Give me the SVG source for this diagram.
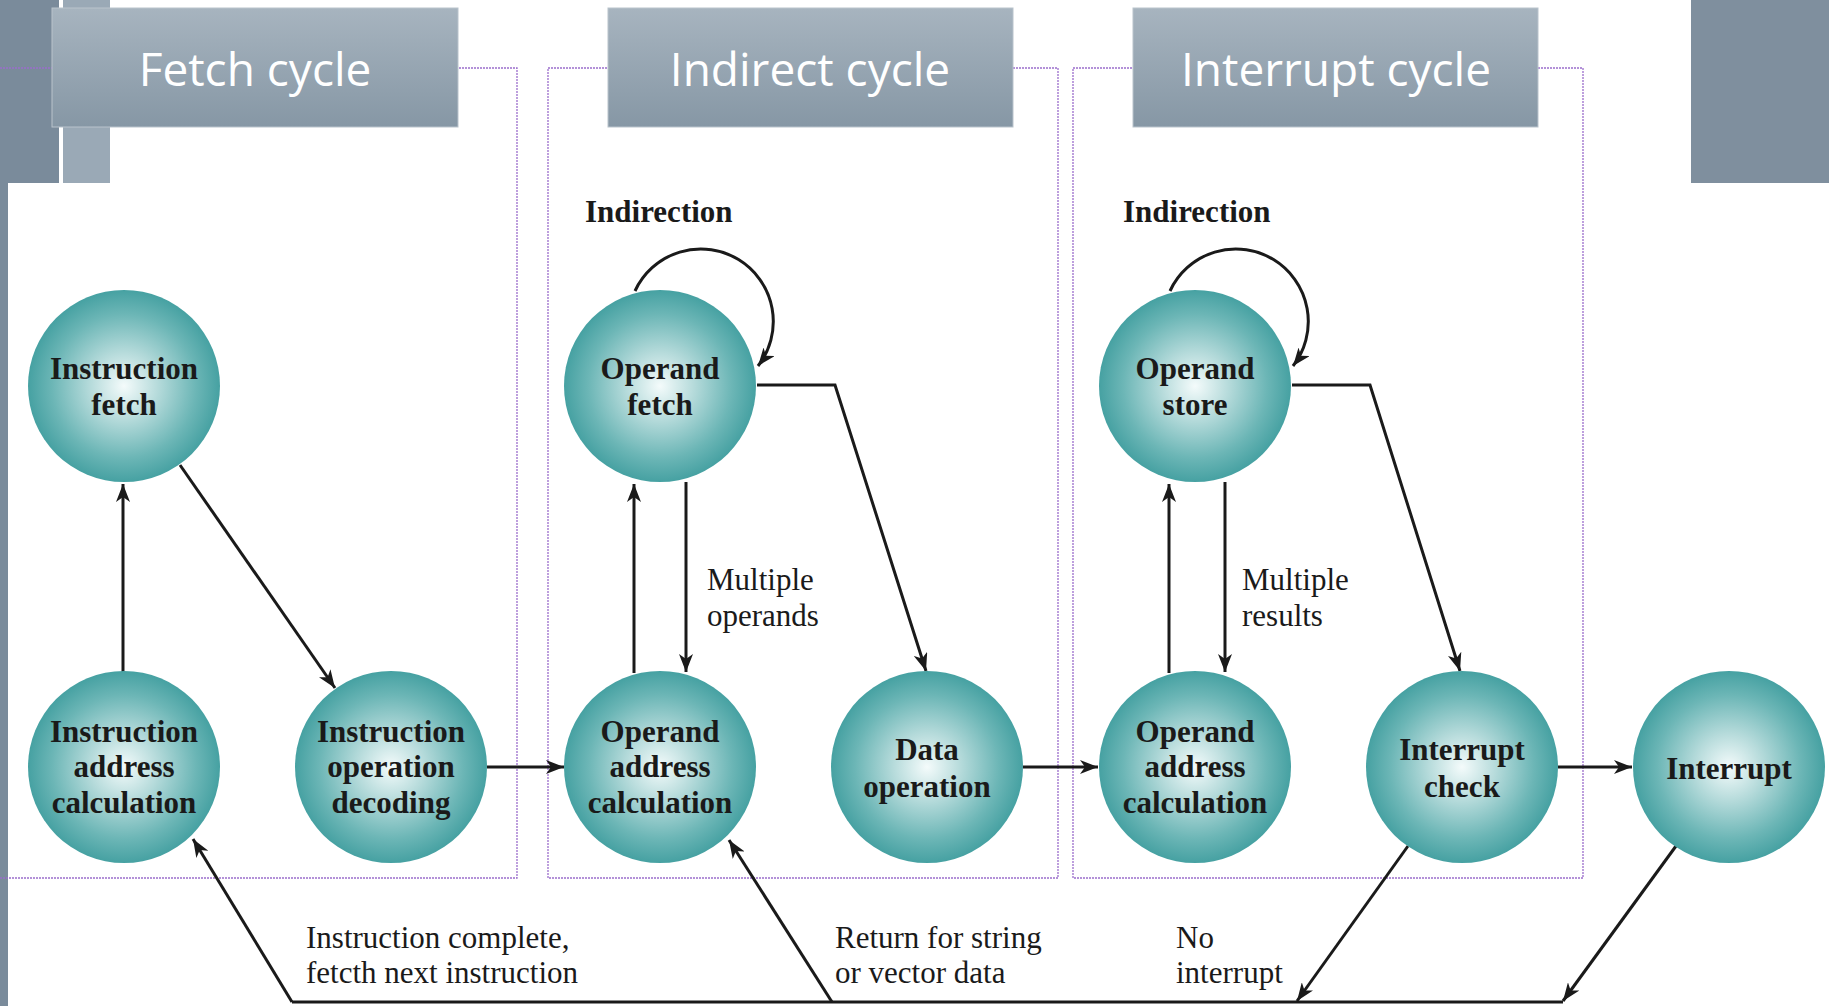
<svg xmlns="http://www.w3.org/2000/svg" width="1829" height="1006" viewBox="0 0 1829 1006">
<defs>
  <radialGradient id="ball" cx="0.5" cy="0.5" r="0.5">
    <stop offset="0" stop-color="#f4fbfb"/>
    <stop offset="0.35" stop-color="#b6dbdb"/>
    <stop offset="0.75" stop-color="#6cb6b6"/>
    <stop offset="1" stop-color="#46a1a2"/>
  </radialGradient>
  <linearGradient id="hdr" x1="0" y1="0" x2="0" y2="1">
    <stop offset="0" stop-color="#a7b4bf"/>
    <stop offset="1" stop-color="#8697a5"/>
  </linearGradient>
  <marker id="ah" markerUnits="userSpaceOnUse" markerWidth="20" markerHeight="14" refX="18" refY="7" orient="auto">
    <path d="M0,0 L18,7 L0,14 L5,7 z" fill="#1a1a1a"/>
  </marker>
  <style>
    .frame{fill:none;stroke:#9b6dcc;stroke-width:1.3;stroke-dasharray:2 1}
    .hbox{fill:url(#hdr);stroke:#b9c3cc;stroke-width:1}
    .htxt{font-family:"Open Sans","Liberation Sans",sans-serif;font-size:46px;fill:#ffffff;text-anchor:middle}
    .ball{fill:url(#ball)}
    .ntxt{font-family:"Liberation Serif",serif;font-weight:bold;font-size:31px;fill:#1a1a1a;text-anchor:middle}
    .lbl{font-family:"Liberation Serif",serif;font-size:31px;fill:#1a1a1a}
    .lblb{font-family:"Liberation Serif",serif;font-weight:bold;font-size:31px;fill:#1a1a1a}
    .ln{fill:none;stroke:#1a1a1a;stroke-width:3}
    .arr{fill:none;stroke:#1a1a1a;stroke-width:3;marker-end:url(#ah)}
  </style>
</defs>

<rect x="0" y="0" width="1829" height="1006" fill="#ffffff"/>

<!-- background bars -->
<g id="background">
  <rect x="0" y="0" width="59" height="183" fill="#7a8b9b"/>
  <rect x="63" y="0" width="47" height="183" fill="#9aa9b6"/>
  <rect x="0" y="183" width="8" height="823" fill="#7a8b9b"/>
  <rect x="1691" y="0" width="138" height="183" fill="#7f8f9e"/>
</g>

<!-- cycle frames -->
<g id="frames">
  <path class="frame" d="M0,68 H517 V878 H0"/>
  <rect class="frame" x="548" y="68" width="510" height="810"/>
  <rect class="frame" x="1073" y="68" width="510" height="810"/>
</g>

<!-- headers -->
<g id="hdr-fetch">
  <rect class="hbox" x="52" y="8" width="406" height="119"/>
  <text class="htxt" x="255" y="86">Fetch cycle</text>
</g>
<g id="hdr-indirect">
  <rect class="hbox" x="608" y="8" width="405" height="119"/>
  <text class="htxt" x="810" y="86">Indirect cycle</text>
</g>
<g id="hdr-interrupt">
  <rect class="hbox" x="1133" y="8" width="405" height="119"/>
  <text class="htxt" x="1336" y="86">Interrupt cycle</text>
</g>

<!-- connectors -->
<g id="connectors">
  <line class="arr" x1="123" y1="672" x2="123" y2="484"/>
  <line class="arr" x1="180" y1="465" x2="335" y2="688"/>
  <line class="arr" x1="487" y1="767" x2="564" y2="767"/>
  <path class="arr" d="M635,291 A72.5,72.5 0 1 1 758,366"/>
  <line class="arr" x1="686" y1="482" x2="686" y2="672"/>
  <line class="arr" x1="634" y1="673" x2="634" y2="484"/>
  <path class="arr" d="M757,385 L835,385 L926,671"/>
  <line class="arr" x1="1023" y1="767" x2="1098" y2="767"/>
  <path class="arr" d="M1170,291 A72.5,72.5 0 1 1 1293,366"/>
  <line class="arr" x1="1225" y1="482" x2="1225" y2="672"/>
  <line class="arr" x1="1169" y1="673" x2="1169" y2="484"/>
  <path class="arr" d="M1292,385 L1370,385 L1460,671"/>
  <line class="arr" x1="1558" y1="767" x2="1632" y2="767"/>
  <line class="ln" x1="292" y1="1002" x2="1563" y2="1002"/>
  <line class="arr" x1="292" y1="1002" x2="193" y2="839"/>
  <line class="arr" x1="832" y1="1002" x2="729" y2="840"/>
  <line class="arr" x1="1408" y1="846" x2="1297" y2="1001"/>
  <line class="arr" x1="1676" y1="846" x2="1563" y2="1001"/>
</g>

<!-- labels -->
<g id="labels">
  <text class="lblb" x="585" y="222">Indirection</text>
  <text class="lblb" x="1123" y="222">Indirection</text>
  <text class="lbl" x="707" y="590">Multiple</text>
  <text class="lbl" x="707" y="626">operands</text>
  <text class="lbl" x="1242" y="590">Multiple</text>
  <text class="lbl" x="1242" y="626">results</text>
  <text class="lbl" x="306" y="948">Instruction complete,</text>
  <text class="lbl" x="306" y="983">fetcth next instruction</text>
  <text class="lbl" x="835" y="948">Return for string</text>
  <text class="lbl" x="835" y="983">or vector data</text>
  <text class="lbl" x="1176" y="948">No</text>
  <text class="lbl" x="1176" y="983">interrupt</text>
</g>

<!-- nodes -->
<g id="n-instruction-fetch">
  <circle class="ball" cx="124" cy="386" r="96"/>
  <text class="ntxt" x="124" y="379">Instruction</text>
  <text class="ntxt" x="124" y="415">fetch</text>
</g>
<g id="n-instruction-address-calculation">
  <circle class="ball" cx="124" cy="767" r="96"/>
  <text class="ntxt" x="124" y="742">Instruction</text>
  <text class="ntxt" x="124" y="777">address</text>
  <text class="ntxt" x="124" y="813">calculation</text>
</g>
<g id="n-instruction-operation-decoding">
  <circle class="ball" cx="391" cy="767" r="96"/>
  <text class="ntxt" x="391" y="742">Instruction</text>
  <text class="ntxt" x="391" y="777">operation</text>
  <text class="ntxt" x="391" y="813">decoding</text>
</g>
<g id="n-operand-fetch">
  <circle class="ball" cx="660" cy="386" r="96"/>
  <text class="ntxt" x="660" y="379">Operand</text>
  <text class="ntxt" x="660" y="415">fetch</text>
</g>
<g id="n-operand-address-calculation-1">
  <circle class="ball" cx="660" cy="767" r="96"/>
  <text class="ntxt" x="660" y="742">Operand</text>
  <text class="ntxt" x="660" y="777">address</text>
  <text class="ntxt" x="660" y="813">calculation</text>
</g>
<g id="n-data-operation">
  <circle class="ball" cx="927" cy="767" r="96"/>
  <text class="ntxt" x="927" y="760">Data</text>
  <text class="ntxt" x="927" y="797">operation</text>
</g>
<g id="n-operand-store">
  <circle class="ball" cx="1195" cy="386" r="96"/>
  <text class="ntxt" x="1195" y="379">Operand</text>
  <text class="ntxt" x="1195" y="415">store</text>
</g>
<g id="n-operand-address-calculation-2">
  <circle class="ball" cx="1195" cy="767" r="96"/>
  <text class="ntxt" x="1195" y="742">Operand</text>
  <text class="ntxt" x="1195" y="777">address</text>
  <text class="ntxt" x="1195" y="813">calculation</text>
</g>
<g id="n-interrupt-check">
  <circle class="ball" cx="1462" cy="767" r="96"/>
  <text class="ntxt" x="1462" y="760">Interrupt</text>
  <text class="ntxt" x="1462" y="797">check</text>
</g>
<g id="n-interrupt">
  <circle class="ball" cx="1729" cy="767" r="96"/>
  <text class="ntxt" x="1729" y="779">Interrupt</text>
</g>
</svg>
